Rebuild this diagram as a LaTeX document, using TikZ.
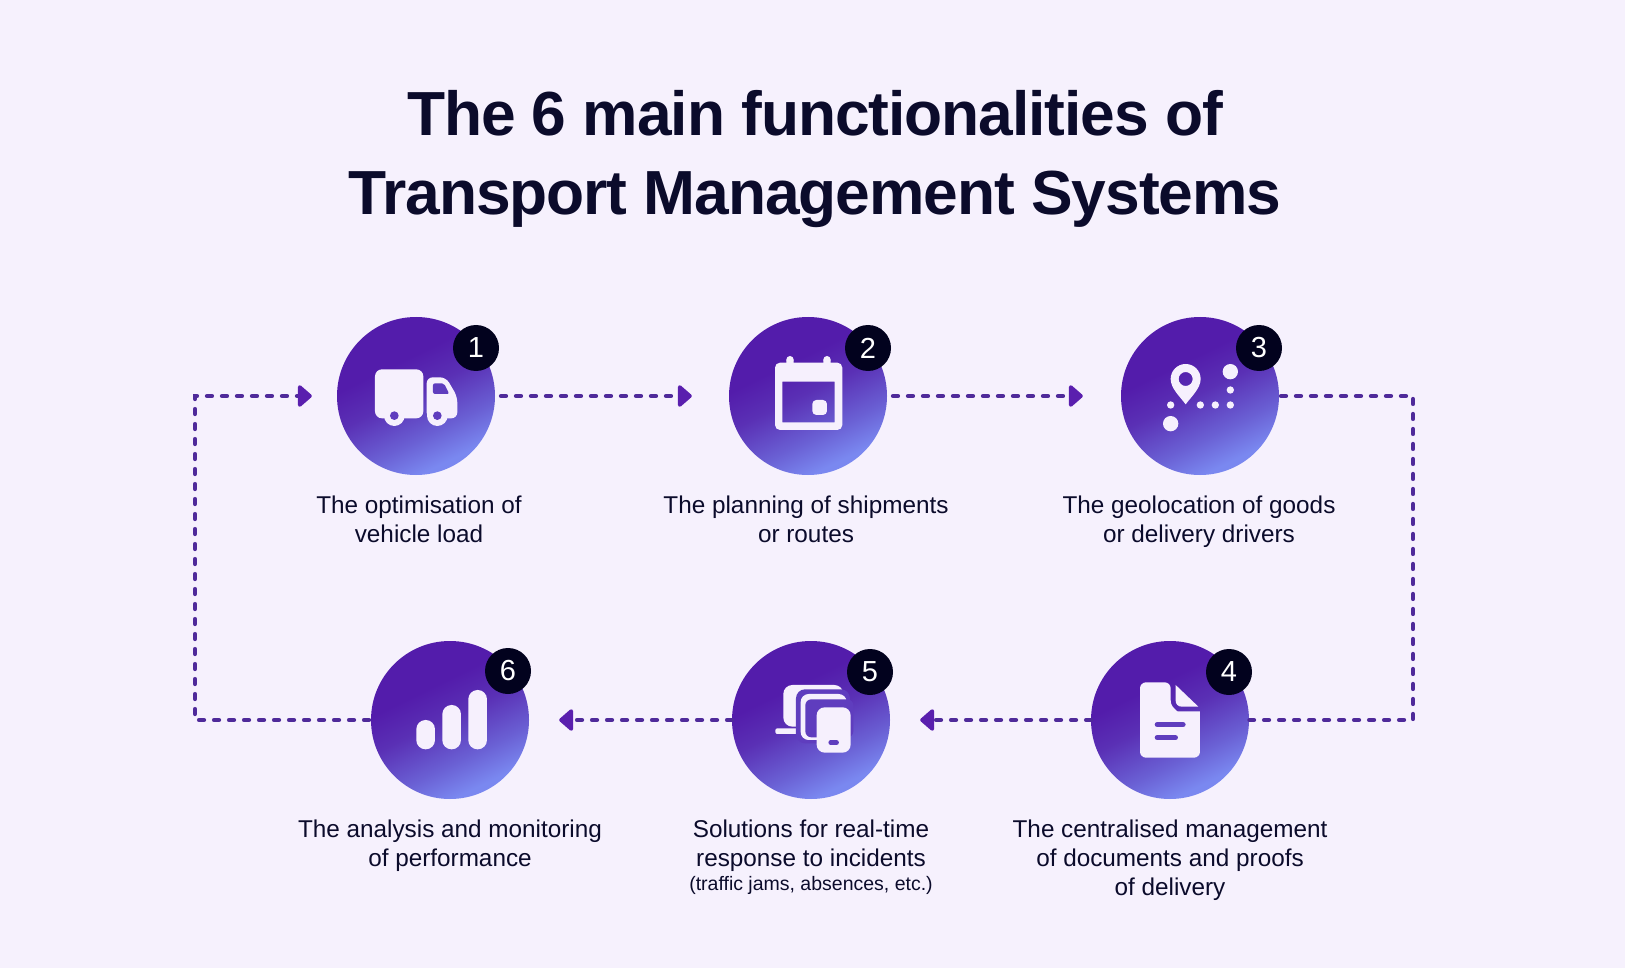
\documentclass[tikz,border=0pt]{standalone}
\usepackage{fontspec}
\setmainfont{Liberation Sans}
\newfontfamily\ttlfont[LetterSpace=-1.7]{Liberation Sans}
\usetikzlibrary{arrows.meta}
\definecolor{bgc}{HTML}{F6F1FD}
\definecolor{ink}{HTML}{0B0B2B}
\definecolor{badgec}{HTML}{02021E}
\definecolor{dashc}{HTML}{4F2A9A}
\definecolor{headc}{HTML}{5A1FAE}
\definecolor{gradA}{HTML}{7A88F0}
\definecolor{gradB}{HTML}{6A60D4}
\definecolor{gradC}{HTML}{5A30B5}
\definecolor{gradD}{HTML}{531CAB}
\definecolor{iconw}{HTML}{F6F0FD}
\definecolor{iconp}{HTML}{5F3DBE}
\pgfdeclareverticalshading{discgrad}{100bp}{color(0bp)=(gradA); color(27bp)=(gradA); color(37bp)=(gradB); color(51bp)=(gradC); color(62bp)=(gradD); color(100bp)=(gradD)}
\tikzset{
  disc/.style={circle,minimum size=158pt,inner sep=0pt,shade,shading=discgrad,shading angle=26},
  badge/.style={circle,minimum size=46pt,inner sep=0pt,fill=badgec,text=white,font=\fontsize{29}{29}\selectfont},
  flow/.style={dashc,line width=4.8pt,dash pattern=on 4.5pt off 10.5pt,line cap=round,line join=miter},
  flowhead/.style={flow,-{Triangle[round,length=15pt,width=25pt,color=headc,sep=5pt]}},
  lab/.style={anchor=north,align=center,text=ink,inner sep=0pt,font=\fontsize{24.3}{29}\selectfont},
  ttl/.style={anchor=north,align=center,text=ink,inner sep=0pt,font=\fontsize{62.3}{79}\ttlfont\selectfont\bfseries},
  wfill/.style={fill=iconw,draw=none},
  pfill/.style={fill=iconp,draw=none}
}
\begin{document}
\begin{tikzpicture}[x=1pt,y=-1pt]
\useasboundingbox (0,0) rectangle (1625,968);
\fill[bgc] (0,0) rectangle (1625,968);
\node[ttl] (title) at (815,90) {The 6 main functionalities of\\Transport Management Systems};

\coordinate (tr) at (1413,396);
\coordinate (br) at (1413,720);
\coordinate (bl) at (195,720);
\coordinate (tl) at (195,396);

\node[disc] (c1) at (416,396) {};
\node[disc] (c2) at (808,396) {};
\node[disc] (c3) at (1200,396) {};
\node[disc] (c4) at (1170,720) {};
\node[disc] (c5) at (811,720) {};
\node[disc] (c6) at (450,720) {};

\draw[flowhead,shorten <=6pt,shorten >=32pt] (c1.east) -- (c2.west);
\draw[flowhead,shorten <=6pt,shorten >=33pt] (c2.east) -- (c3.west);
\draw[flow,shorten <=2pt,shorten >=0.5pt] (c3.east) -- (tr) -- (br) -- (c4.east);
\draw[flowhead,shorten <=0pt,shorten >=25pt] (c4.west) -- (c5.east);
\draw[flowhead,shorten <=0pt,shorten >=25pt] (c5.west) -- (c6.east);
\draw[flowhead,shorten <=2pt,shorten >=20pt] (c6.west) -- (bl) -- (tl) -- (c1.west);

% truck
\begin{scope}[shift={(300,300)},x=0.3333pt,y=-0.3333pt]
\fill[wfill] (225,208) [rounded corners=7pt] -- (370,208) -- (370,355) -- (225,355) -- cycle;
\fill[wfill] (380,232) [rounded corners=6pt] -- (438,232) -- (472,290) -- (472,355) -- (380,355) -- cycle;
\fill[pfill] (399,250) [rounded corners=2pt] -- (432,250) -- (448,282) -- (399,282) -- cycle;
\fill[wfill] (283,347) circle (31) (412,347) circle (31);
\fill[pfill] (283,347) circle (13) (412,347) circle (13);
\end{scope}
% calendar
\begin{scope}[shift={(700,300)},x=0.3333pt,y=-0.3333pt]
\fill[wfill] (270,179) circle (11) (381,179) circle (11);
\fill[wfill] (259,179) rectangle (281,195) (370,179) rectangle (392,195);
\fill[wfill,even odd rule] [rounded corners=5pt] (225,188) -- (427,188) -- (427,390) -- (225,390) -- cycle
  [sharp corners] (247,245) -- (404,245) -- (404,367) -- (247,367) -- cycle;
\fill[wfill] [rounded corners=4pt] (337,300) -- (381,300) -- (381,345) -- (337,345) -- cycle;
\end{scope}
% map
\begin{scope}[shift={(1100,300)},x=0.3333pt,y=-0.3333pt]
\fill[wfill,even odd rule] (257,313) .. controls (240,290) and (212,265) .. (212,237) arc[start angle=180,end angle=360,radius=45] .. controls (302,265) and (274,290) .. (257,313) -- cycle (257,237) circle (21);
\fill[wfill] (212,315) circle (11) (301,315) circle (11) (346,315) circle (11) (391,315) circle (11) (391,270) circle (11) (391,215) circle (23) (212,371) circle (23);
\end{scope}
% document
\begin{scope}[shift={(1060,630)},x=0.3333pt,y=-0.3333pt]
\fill[wfill] [rounded corners=6pt] (240,157) -- (332,157) [sharp corners] -- (332,210) .. controls (332,228) and (340,232) .. (352,244) -- (420,244) [rounded corners=6pt] -- (420,383) -- (240,383) -- cycle;
\fill[wfill] (347,165) -- (415,230) -- (365,230) .. controls (354,230) and (347,222) .. (347,212) -- cycle;
\draw[iconp,line width=5.3pt,line cap=round] (292,284) -- (369,284);
\draw[iconp,line width=5.3pt,line cap=round] (292,323) -- (346,323);
\end{scope}
% devices
\begin{scope}[shift={(700,630)},x=0.3333pt,y=-0.3333pt]
\fill[wfill] [rounded corners=9pt] (250,165) -- (430,165) -- (430,290) -- (250,290) -- cycle;
\fill[wfill] [rounded corners=2pt] (226,295) -- (300,295) -- (300,312) -- (226,312) -- cycle;
\fill[pfill] [rounded corners=9pt] (288,178) -- (450,178) -- (450,340) -- (288,340) -- cycle;
\fill[wfill] [rounded corners=8pt] (302,192) -- (440,192) -- (440,330) -- (302,330) -- cycle;
\fill[pfill] [rounded corners=6pt] (316,208) -- (460,208) -- (460,322) -- (316,322) -- cycle;
\fill[wfill] [rounded corners=8pt] (350,232) -- (452,232) -- (452,368) -- (350,368) -- cycle;
\draw[iconp,line width=4.5pt,line cap=round] (392,338) -- (410,338);
\end{scope}
% bars
\begin{scope}[shift={(180,630)},x=0.3333pt,y=-0.3333pt]
\fill[wfill] [rounded corners=9.2pt] (709,270) -- (765,270) -- (765,358) -- (709,358) -- cycle;
\fill[wfill] [rounded corners=9.2pt] (787,225) -- (843,225) -- (843,358) -- (787,358) -- cycle;
\fill[wfill] [rounded corners=9.2pt] (865,180) -- (921,180) -- (921,358) -- (865,358) -- cycle;
\end{scope}

\node[badge] (b1) at (476,348) {1};
\node[badge] (b2) at (868,348) {2};
\node[badge] (b3) at (1259,348) {3};
\node[badge] (b4) at (1229,672) {4};
\node[badge] (b5) at (870,672) {5};
\node[badge] (b6) at (508,671) {6};

\node[lab] (l1) at (419,496) {The optimisation of\\vehicle load};
\node[lab] (l2) at (806,496) {The planning of shipments\\or routes};
\node[lab] (l3) at (1199,496) {The geolocation of goods\\or delivery drivers};
\node[lab] (l4) at (1170,820) {The centralised management\\of documents and proofs\\of delivery};
\node[lab] (l5) at (811,820) {Solutions for real-time\\response to incidents\\[-5pt]{\fontsize{19.5}{22}\selectfont (traffic jams, absences, etc.)}};
\node[lab] (l6) at (450,820) {The analysis and monitoring\\of performance};
\end{tikzpicture}
\end{document}
